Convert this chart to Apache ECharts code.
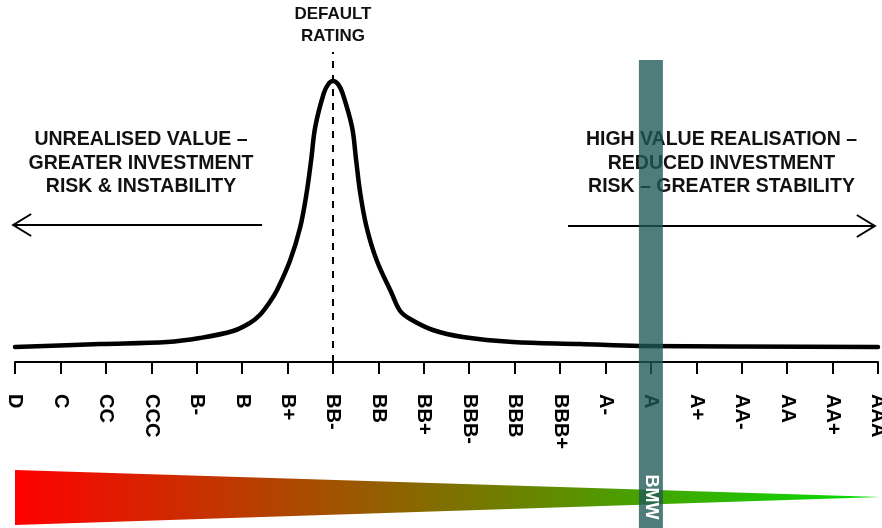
<!DOCTYPE html>
<html>
<head>
<meta charset="utf-8">
<script src="https://cdn.jsdelivr.net/npm/echarts@6/dist/echarts.min.js"></script>
<style>
html,body{margin:0;padding:0;background:#fff;}
#chart{width:882px;height:528px;}
</style>
</head>
<body>
<div id="chart"></div>
<script>
// Rating scale (x-axis tick labels)
const ratings = ['D','C','CC','CCC','B-','B','B+','BB-','BB','BB+','BBB-','BBB','BBB+','A-','A','A+','AA-','AA','AA+','AAA'];
// Curve: position on the rating scale and relative height
const curveX = [0, 1.87, 3.35, 4.07, 4.80, 5.17, 5.39, 5.61, 5.77, 6.06, 6.28, 6.42, 6.52, 6.61, 6.80, 6.90, 7.0, 7.11, 7.21, 7.42, 7.51, 7.60, 7.74, 7.96, 8.29, 8.48, 8.70, 9.20, 9.86, 10.96, 12.44, 13.76, 19];
const curveY = [15, 18, 20, 24, 31, 39, 47, 60, 72, 102, 135, 169, 202, 235, 269, 278, 281, 278, 269, 235, 202, 169, 135, 102, 69, 51, 43, 32, 25, 20, 18, 16, 15];
const defaultRating = 'BB-';
const companyRating = 'A';
const companyName = 'BMW';
const leftText = 'UNREALISED VALUE –\nGREATER INVESTMENT\nRISK & INSTABILITY';
const rightText = 'HIGH VALUE REALISATION –\nREDUCED INVESTMENT\nRISK – GREATER STABILITY';

const FONT = "'Liberation Sans', Arial, sans-serif";
const curveData = curveX.map((x, i) => [x, curveY[i]]);
const defIdx = ratings.indexOf(defaultRating);
const compIdx = ratings.indexOf(companyRating);

const chart = echarts.init(document.getElementById('chart'), null, {renderer: 'canvas'});
chart.setOption({
  animation: false,
  backgroundColor: '#ffffff',
  grid: {left: 15, right: 4, top: 40, bottom: 166, containLabel: false, outerBoundsMode: 'none'},
  xAxis: {
    type: 'value', min: 0, max: ratings.length - 1, interval: 1,
    axisLine: {show: true, onZero: false, lineStyle: {color: '#000', width: 2}},
    axisTick: {show: true, length: 12, lineStyle: {color: '#000', width: 2}},
    splitLine: {show: false},
    axisLabel: {
      rotate: -90, margin: 32, color: '#000', fontSize: 20, fontWeight: 'bold', fontFamily: FONT,
      formatter: v => ratings[Math.round(v)] || ''
    }
  },
  yAxis: {type: 'value', min: 0, max: 322, show: false},
  graphic: [
    {type: 'text', x: 141, y: 128, z: 5, style: {text: leftText, x: 0, y: 0, textAlign: 'center', textVerticalAlign: 'top', fill: '#111', font: 'bold 19.5px ' + FONT, lineHeight: 23.5}},
    {type: 'text', x: 721.5, y: 128, z: 5, style: {text: rightText, x: 0, y: 0, textAlign: 'center', textVerticalAlign: 'top', fill: '#111', font: 'bold 19.5px ' + FONT, lineHeight: 23.5}}
  ],
  series: [
    {
      type: 'custom', name: 'scale', z: 1, silent: true, clip: false,
      data: [[0, ratings.length - 1 + 0.05]],
      renderItem: (params, api) => {
        const a = api.coord([api.value(0), -108]);
        const b = api.coord([api.value(0), -163]);
        const c = api.coord([api.value(1), -135]);
        return {
          type: 'polygon',
          shape: {points: [a, b, c]},
          style: {fill: new echarts.graphic.LinearGradient(0, 0, 1, 0, [
            {offset: 0, color: '#ff0000'}, {offset: 1, color: '#00e000'}
          ])}
        };
      }
    },
    {
      type: 'custom', name: 'arrows', z: 3, silent: true, clip: false,
      data: [[-0.04, 5.44, 137, -1], [12.175, 18.93, 136, 1]],
      renderItem: (params, api) => {
        const p0 = api.coord([api.value(0), api.value(2)]);
        const p1 = api.coord([api.value(1), api.value(2)]);
        const dir = api.value(3);
        const tip = dir < 0 ? p0 : p1;
        const back = dir < 0 ? 18 : -18;
        return {
          type: 'group',
          children: [
            {type: 'line', shape: {x1: p0[0], y1: p0[1], x2: p1[0], y2: p1[1]}, style: {stroke: '#000', lineWidth: 2}},
            {type: 'polyline', shape: {points: [[tip[0] + back, tip[1] - 11], tip, [tip[0] + back, tip[1] + 11]]}, style: {stroke: '#000', lineWidth: 2, fill: null}}
          ]
        };
      }
    },
    {
      type: 'line', name: 'curve', z: 4, clip: false,
      data: curveData, smooth: 0.35, showSymbol: false, silent: true,
      lineStyle: {color: '#000', width: 4.5, cap: 'round', join: 'round'},
      markLine: {
        silent: true, symbol: ['none', 'none'],
        lineStyle: {color: '#000', width: 2, type: [7, 7]},
        label: {show: true, position: 'end', formatter: 'DEFAULT\nRATING', color: '#111', fontSize: 17, fontWeight: 'bold', fontFamily: FONT, lineHeight: 22},
        data: [[{coord: [defIdx, 0]}, {coord: [defIdx, 310]}]]
      }
    },
    {
      type: 'custom', name: companyName, z: 10, silent: true, clip: false,
      data: [[compIdx]],
      renderItem: (params, api) => {
        const top = api.coord([api.value(0), 302]);
        const bottom = api.coord([api.value(0), -166]);
        const mid = api.coord([api.value(0), -135]);
        return {
          type: 'group',
          children: [
            {type: 'rect', shape: {x: top[0] - 12, y: top[1], width: 24, height: bottom[1] - top[1]}, style: {fill: 'rgba(30,88,86,0.78)'}},
            {type: 'text', x: mid[0], y: mid[1], rotation: -Math.PI / 2, style: {text: companyName, x: 0, y: 0, textAlign: 'center', textVerticalAlign: 'middle', fill: '#fff', font: 'bold 18px ' + FONT}}
          ]
        };
      }
    }
  ]
});
</script>
</body>
</html>
